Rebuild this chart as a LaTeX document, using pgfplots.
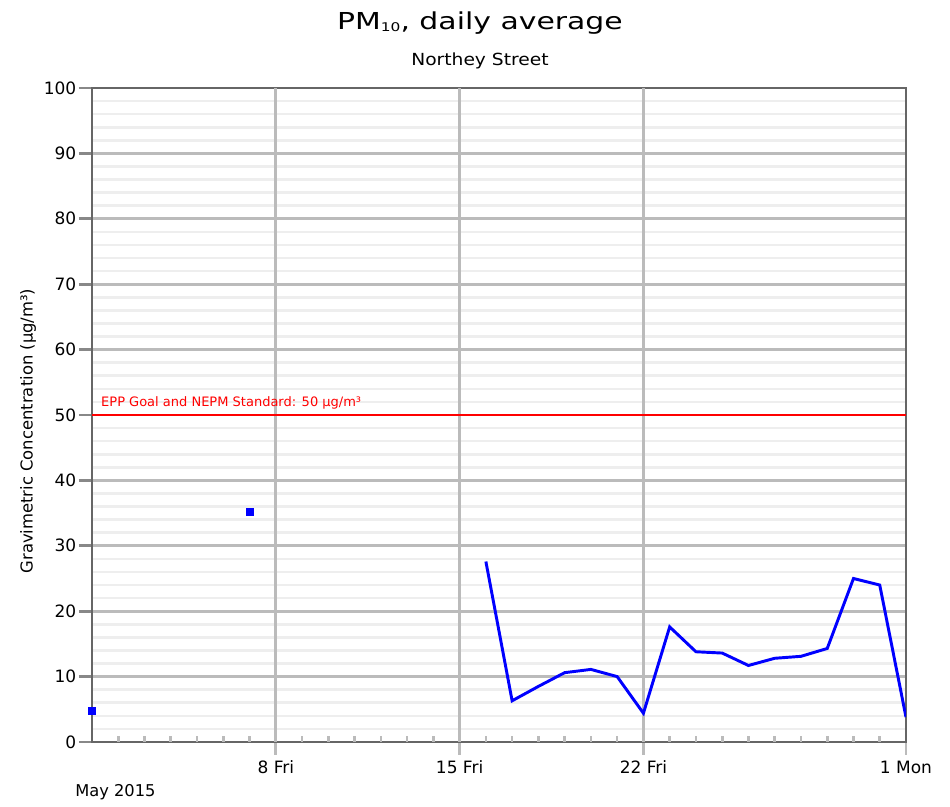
\documentclass[border=0pt]{standalone}
\usepackage{fontspec}
\setmainfont{DejaVu Sans}
\newfontfamily\titlefont[FakeStretch=1.28]{DejaVu Sans}
\newfontfamily\subfont[FakeStretch=1.12]{DejaVu Sans}
\usepackage{pgfplots}
\pgfplotsset{compat=1.18}
\definecolor{axisgray}{HTML}{666666}
\definecolor{majgrid}{HTML}{BBBBBB}
\definecolor{mingrid}{HTML}{EEEEEE}
\definecolor{ytickgray}{HTML}{888888}
\begin{document}
\begin{tikzpicture}
\useasboundingbox (0,0) rectangle (712.5pt,605.25pt);
\begin{axis}[
  at={(69pt,48.75pt)}, anchor=south west,
  scale only axis, width=610.5pt, height=490.5pt,
  xmin=1, xmax=32, ymin=0, ymax=100,
  xtick={8,15,22,32}, xticklabels={8 Fri,15 Fri,22 Fri,1 Mon},
  ytick={0,10,...,100},
  minor ytick={2,4,...,98},
  ymajorgrids, yminorgrids,
  major grid style={draw=majgrid, line width=2pt},
  minor grid style={draw=mingrid, line width=2pt},
  tick pos=left,
  tick align=outside, major tick length=9.75pt, minor tick length=0pt,
  major x tick style={draw=majgrid, line width=2pt},
  major y tick style={draw=ytickgray, line width=2pt},
  extra x ticks={2,3,4,5,6,7,9,10,11,12,13,14,16,17,18,19,20,21,23,24,25,26,27,28,29,30,31},
  extra x tick labels={},
  extra x tick style={grid=none, tick align=inside, major tick length=4.5pt},
  axis line style={draw=axisgray, line width=2pt},
  ticklabel style={font=\fontsize{12.75}{14}\selectfont, text=black},
  xticklabel style={anchor=base, yshift=-14.25pt},
  yticklabel style={xshift=1.5pt},
  /pgf/number format/assume math mode=true,
]
\addplot[majgrid, line width=2pt, forget plot] coordinates {(8,0) (8,100)};
\addplot[majgrid, line width=2pt, forget plot] coordinates {(15,0) (15,100)};
\addplot[majgrid, line width=2pt, forget plot] coordinates {(22,0) (22,100)};
\addplot[red, line width=2.2pt] coordinates {(1,50) (32,50)};
\node[anchor=base west, text=red, font=\fontsize{9.75}{11}\selectfont, inner sep=0pt] at (axis cs:1.34,50) [yshift=6pt] {EPP Goal and NEPM Standard: 50 µg/m³};
\addplot[only marks, mark=square*, mark size=2.5pt, color=blue] coordinates {(1,4.8) (7,35.2)};
\addplot[blue, line width=2.2pt, mark=none] coordinates {
(16,27.6) (17,6.3) (18,8.5) (19,10.6) (20,11.1) (21,10.0) (22,4.4) (23,17.6)
(24,13.8) (25,13.6) (26,11.7) (27,12.8) (28,13.1) (29,14.3) (30,25.0) (31,24.0) (32,3.8)};
\end{axis}
\node[anchor=base, font=\titlefont\fontsize{17.5}{20}\selectfont] at (360pt,582.75pt) {PM\raisebox{-0.15ex}{\fontsize{9}{9}\selectfont 10}, daily average};
\node[anchor=base, font=\subfont\fontsize{12.5}{14}\selectfont] at (360pt,555.75pt) {Northey Street};
\node[anchor=base west, inner sep=0pt, font=\fontsize{12.2}{14}\selectfont] at (56.25pt,7.5pt) {May 2015};
\node[rotate=90, font=\fontsize{12.3}{14}\selectfont] at (21pt,282pt) {Gravimetric Concentration (µg/m³)};
\end{tikzpicture}
\end{document}
